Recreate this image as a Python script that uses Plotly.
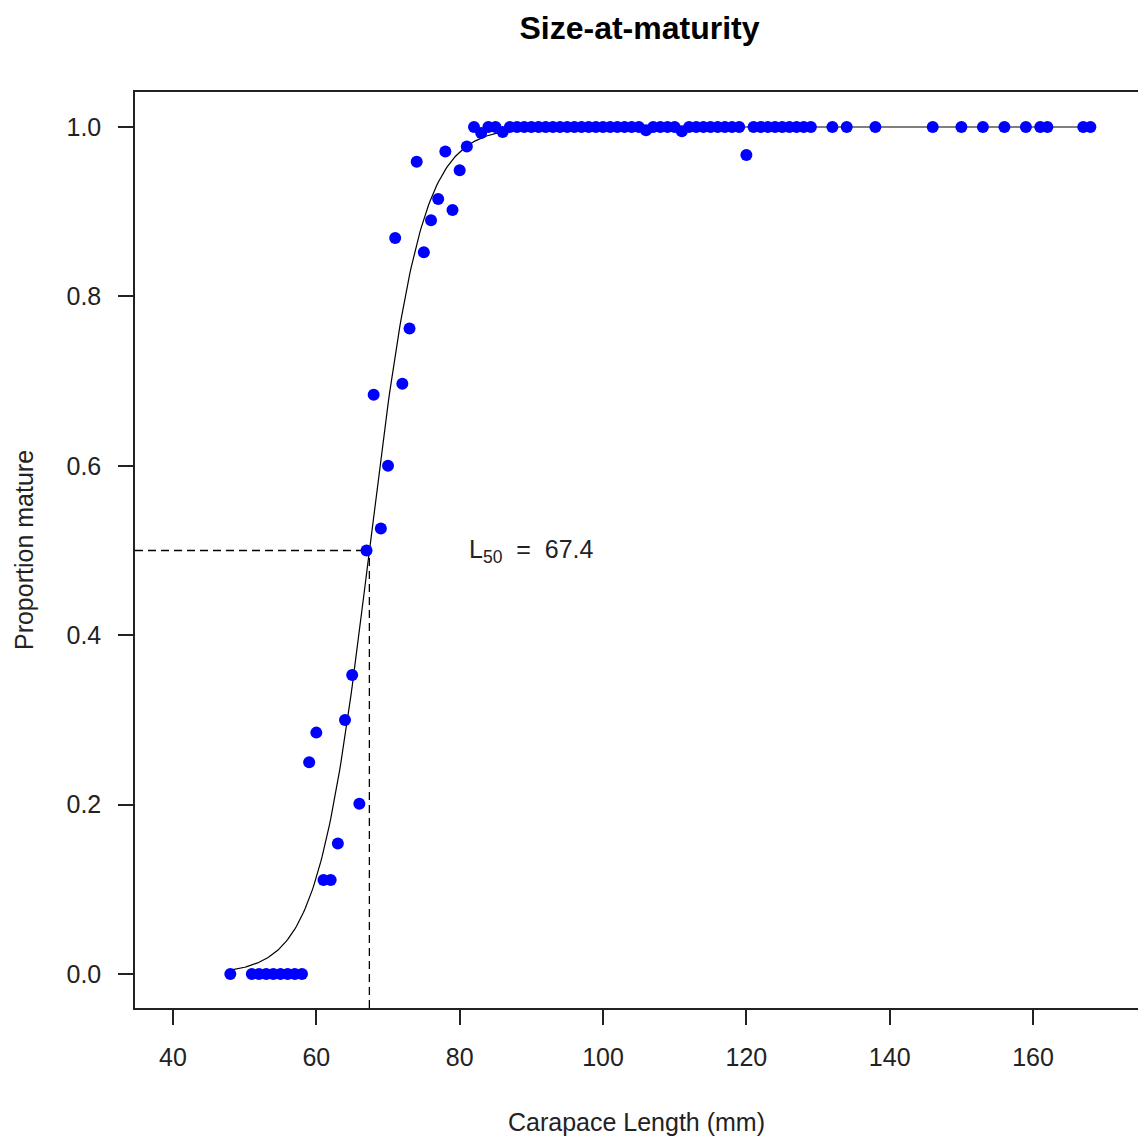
import numpy as np
import plotly.graph_objects as go

# Observed proportion mature by carapace length (mm)
length_mm = [48, 51, 52, 53, 54, 55, 56, 57, 58,
             59, 60, 61, 62, 63, 64, 65, 66, 67, 68, 69, 70,
             71, 72, 73, 74, 75, 76, 77, 78, 79, 80, 81, 82,
             83, 84, 85, 86, 87, 88, 89, 90, 91, 92, 93, 94,
             95, 96, 97, 98, 99, 100, 101, 102, 103, 104, 105, 106,
             107, 108, 109, 110, 111, 112, 113, 114, 115, 116, 117, 118,
             119, 120, 121, 122, 123, 124, 125, 126, 127, 128, 129,
             132, 134, 138, 146, 150, 153, 156, 159, 161, 162, 167, 168]
prop_mature = [0.0, 0.0, 0.0, 0.0, 0.0, 0.0, 0.0, 0.0, 0.0,
               0.250, 0.285, 0.111, 0.111, 0.154, 0.300, 0.353, 0.201, 0.500, 0.684, 0.526, 0.600,
               0.869, 0.697, 0.762, 0.959, 0.852, 0.890, 0.915, 0.971, 0.902, 0.949, 0.977, 1.0,
               0.993, 1.0, 1.0, 0.994, 1.0, 1.0, 1.0, 1.0, 1.0, 1.0, 1.0, 1.0,
               1.0, 1.0, 1.0, 1.0, 1.0, 1.0, 1.0, 1.0, 1.0, 1.0, 1.0, 0.996,
               1.0, 1.0, 1.0, 1.0, 0.995, 1.0, 1.0, 1.0, 1.0, 1.0, 1.0, 1.0,
               1.0, 0.967, 1.0, 1.0, 1.0, 1.0, 1.0, 1.0, 1.0, 1.0, 1.0,
               1.0, 1.0, 1.0, 1.0, 1.0, 1.0, 1.0, 1.0, 1.0, 1.0, 1.0, 1.0]

# Fitted logistic model parameters
L50 = 67.4
slope = 0.277
fit_min, fit_max = 48, 168

x_ticks = [40, 60, 80, 100, 120, 140, 160]
y_ticks = [0.0, 0.2, 0.4, 0.6, 0.8, 1.0]

x_range = [34.70, 174.64]
y_range = [-0.0401, 1.0413]

xfit = np.linspace(fit_min, fit_max, 600)
yfit = 1.0 / (1.0 + np.exp(-slope * (xfit - L50)))

FONT = "Liberation Sans, Arial, sans-serif"

fig = go.Figure()
fig.add_trace(go.Scatter(x=xfit, y=yfit, mode="lines",
                         line=dict(color="black", width=1.2), hoverinfo="skip"))
# dashed reference lines at L50
fig.add_trace(go.Scatter(x=[x_range[0], L50], y=[0.5, 0.5], mode="lines",
                         line=dict(color="black", width=1.3, dash="8px,5px")))
fig.add_trace(go.Scatter(x=[L50, L50], y=[y_range[0], 0.5], mode="lines",
                         line=dict(color="black", width=1.3, dash="8px,5px")))
fig.add_trace(go.Scatter(x=length_mm, y=prop_mature, mode="markers",
                         marker=dict(color="#0000FF", size=12, line=dict(width=0))))

fig.add_annotation(x=90, y=0.5, xref="x", yref="y",
                   text="L<sub>50</sub>  =  67.4", showarrow=False,
                   xanchor="center", yanchor="middle",
                   font=dict(family=FONT, size=25, color="#222222"))

fig.update_layout(
    width=1138, height=1140,
    margin=dict(l=135, r=0, t=92, b=132),
    paper_bgcolor="white", plot_bgcolor="white",
    showlegend=False,
    title=dict(text="<b>Size-at-maturity</b>", x=(135 + 1144) / 2 / 1138, xanchor="center",
               y=1 - 28 / 1140, yanchor="middle",
               font=dict(family=FONT, size=32, color="black")),
    font=dict(family=FONT, size=25, color="#222222"),
)
fig.update_xaxes(range=x_range, tickvals=x_ticks, ticktext=[str(v) for v in x_ticks],
                 showgrid=False, zeroline=False,
                 showline=True, linecolor="#222222", linewidth=1.5, mirror=True,
                 ticks="outside", ticklen=15, tickwidth=1.5, tickcolor="#222222",
                 ticklabelstandoff=11,
                 title=dict(text="Carapace Length (mm)", standoff=44,
                            font=dict(family=FONT, size=25, color="#222222")))
fig.update_yaxes(range=y_range, tickvals=y_ticks, ticktext=[f"{v:.1f}" for v in y_ticks],
                 showgrid=False, zeroline=False,
                 showline=True, linecolor="#222222", linewidth=1.5, mirror=False,
                 ticks="outside", ticklen=15, tickwidth=1.5, tickcolor="#222222",
                 ticklabelstandoff=12,
                 title=dict(text="Proportion mature", standoff=26,
                            font=dict(family=FONT, size=25, color="#222222")))

fig.write_html("out.html")
